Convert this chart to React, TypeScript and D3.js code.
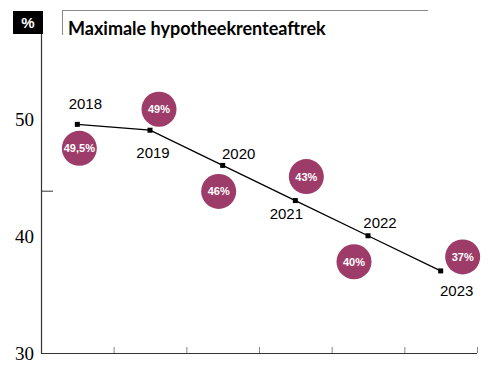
import React from "react";
import * as d3 from "d3";

const years = ["2018", "2019", "2020", "2021", "2022", "2023"];
const values = [49.5, 49, 46, 43, 40, 37];
const bubbleLabels = ["49,5%", "49%", "46%", "43%", "40%", "37%"];
const yTickValues = [30, 40, 50];
const minorTickValues = [43.8];
const title = "Maximale hypotheekrenteaftrek";
const unit = "%";

// label placement offsets (px) relative to each data point
const yearOffsets = [[8, -20], [3, 23], [16, -11], [-9, 13], [12, -13], [16, 20]];
const bubbleOffsets = [[2, 24], [9, -21], [-4, 26], [11, -24], [-14, 26], [22, -14]];

const W = 500;
const H = 383;
const COLOR = "#9d3b69";

export default function App() {
  const x = d3.scaleBand<string>().domain(years).range([41, 477]).padding(0);
  const y = d3.scaleLinear().domain([30, 50]).range([353, 118.5]);
  const cx = (i: number) => (x(years[i]) as number) + x.bandwidth() / 2;
  const line = d3
    .line<number>()
    .x((_, i) => cx(i))
    .y((d) => y(d));
  const boundaries = [...years.map((yr) => x(yr) as number), 477];
  const sans = "'Liberation Sans', Arial, sans-serif";

  return (
    <svg
      width={W}
      height={H}
      style={{ position: "absolute", left: 0, top: 0, background: "#fff" }}
    >
      {/* header */}
      <rect x={13} y={11} width={30} height={23} fill="#000" />
      <text x={28} y={28} fill="#fff" fontFamily={sans} fontWeight={700} fontSize={15} textAnchor="middle">
        {unit}
      </text>
      <line x1={62} x2={428} y1={10.5} y2={10.5} stroke="#888" strokeWidth={1} />
      <line x1={62.5} x2={62.5} y1={10} y2={35} stroke="#888" strokeWidth={1} />
      <text x={68} y={35} fill="#000" fontFamily="Lato, sans-serif" fontWeight={700} fontSize={18}>
        {title}
      </text>

      {/* axes */}
      <line x1={41.5} x2={41.5} y1={34} y2={353.5} stroke="#333" strokeWidth={1.2} />
      <line x1={41} x2={477} y1={353.5} y2={353.5} stroke="#333" strokeWidth={1.2} />
      {boundaries.slice(1).map((b, i) => (
        <line key={i} x1={b + 0.5} x2={b + 0.5} y1={347} y2={353} stroke="#888" strokeWidth={1} />
      ))}
      {minorTickValues.map((v, i) => (
        <line key={i} x1={41} x2={53} y1={y(v)} y2={y(v)} stroke="#333" strokeWidth={1} />
      ))}
      {yTickValues.map((v) => (
        <text
          key={v}
          x={34}
          y={y(v) + 7}
          textAnchor="end"
          fontFamily="'Liberation Serif', 'Times New Roman', serif"
          fontSize={19}
          fill="#000"
        >
          {v}
        </text>
      ))}

      {/* line */}
      <path d={line(values) || ""} fill="none" stroke="#000" strokeWidth={1.3} />
      {values.map((v, i) => (
        <rect key={i} x={cx(i) - 2.5} y={y(v) - 2.5} width={5} height={5} fill="#000" />
      ))}

      {/* year labels */}
      {values.map((v, i) => (
        <text
          key={i}
          x={cx(i) + yearOffsets[i][0]}
          y={y(v) + yearOffsets[i][1] + 5}
          textAnchor="middle"
          fontFamily={sans}
          fontSize={15}
          fill="#000"
        >
          {years[i]}
        </text>
      ))}

      {/* bubbles */}
      {values.map((v, i) => {
        const bx = cx(i) + bubbleOffsets[i][0];
        const by = y(v) + bubbleOffsets[i][1];
        return (
          <g key={i}>
            <circle cx={bx} cy={by} r={17.5} fill={COLOR} />
            <text
              x={bx}
              y={by + 4}
              textAnchor="middle"
              fontFamily={sans}
              fontWeight={700}
              fontSize={11}
              fill="#fff"
            >
              {bubbleLabels[i]}
            </text>
          </g>
        );
      })}
    </svg>
  );
}
